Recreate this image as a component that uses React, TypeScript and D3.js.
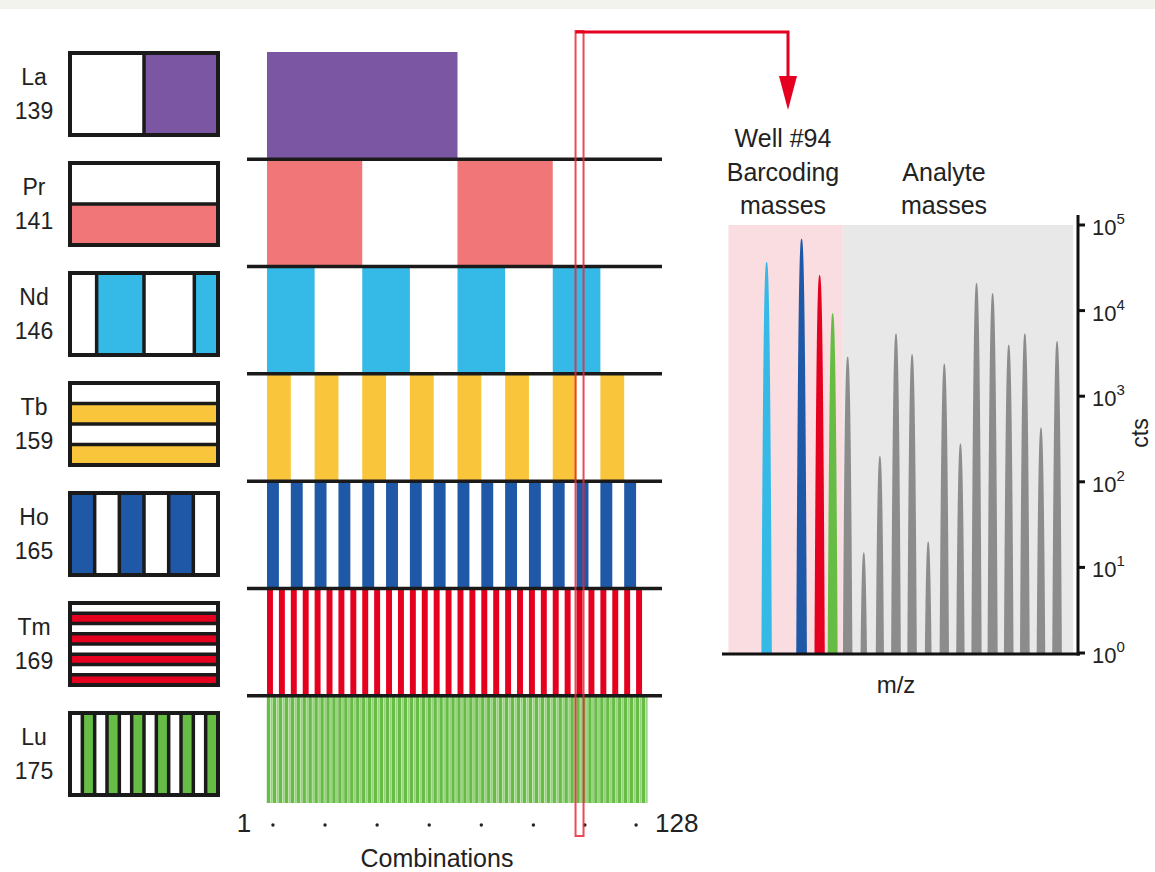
import React from "react";
import * as d3 from "d3";

// ---------- data ----------
const elements = ["La", "Pr", "Nd", "Tb", "Ho", "Tm", "Lu"];
const masses = ["139", "141", "146", "159", "165", "169", "175"];
const elementColors = ["#7b56a2", "#f07677", "#35b9e6", "#f9c53b", "#1f58a6", "#e60020", "#66bc45"];
// each row is "on" for the first half of every period (in combinations)
const rowPeriods = [128, 64, 32, 16, 8, 4, 2];
const totalCombinations = 128;
const highlightCombination = 105;
const dotTicks = [2, 19.5, 37, 54.5, 72, 89.5, 106.8, 124];

// legend box stripes
const legendOrient = ["v", "h", "v", "h", "v", "h", "v"];
const legendSizes = [
  [1, 1],
  [1, 1],
  [0.18, 0.32, 0.34, 0.16],
  [1, 1, 1, 1],
  [1, 1, 1, 1, 1, 1],
  [1, 1, 1, 1, 1, 1, 1, 1],
  [1, 1, 1, 1, 1, 1, 1, 1, 1, 1, 1, 1],
];
const legendOn = [
  [0, 1],
  [0, 1],
  [0, 1, 0, 1],
  [0, 1, 0, 1],
  [1, 0, 1, 0, 1, 0],
  [0, 1, 0, 1, 0, 1, 0, 1],
  [0, 1, 0, 1, 0, 1, 0, 1, 0, 1, 0, 1],
];

// spectrum
const barcodeElements = ["Nd", "Ho", "Tm", "Lu"];
const barcodeChannels = [4.97, 7.14, 8.26, 9.07];
const barcodeCounts = [37000, 69000, 26000, 9300];
const analyteChannels = [10, 11, 12, 13, 14, 15, 16, 17, 18, 19, 20, 21, 22, 23];
const analyteCounts = [2900, 15, 200, 5400, 3100, 20, 2400, 280, 21000, 16000, 4000, 5400, 430, 4400];
const yTickValues = [1, 10, 100, 1000, 10000, 100000];
const yTickExponents = ["0", "1", "2", "3", "4", "5"];
const barcodeRegion = [2.6, 9.7];
const analyteRegion = [9.7, 24.0];

const FONT = "'Liberation Sans', Arial, Helvetica, sans-serif";
const TXT = "#222";

export default function App() {
  const W = 1155, H = 872;
  const x = d3.scaleLinear().domain([0, totalCombinations]).range([267, 648]);
  const rows = d3.scaleBand<string>().domain(elements).range([52, 803]).padding(0);
  const legend = d3.scaleBand<string>().domain(elements).range([53, 795]).paddingInner(0.2545).paddingOuter(0);
  const lx0 = 70, lw = 148;

  const xs = d3.scaleLinear().domain([2.2, 24.3]).range([722, 1078]);
  const ys = d3.scaleLog().domain([1, 100000]).range([653, 225]);

  const K = 0.045, Q = 2.8;
  const peakPath = (ch: number, cts: number) => {
    const h = Math.log10(cts);
    const hw = Math.pow(h / K, 1 / Q);
    const N = 30;
    const pts: [number, number][] = d3.range(-N, N + 1).map((i) => {
      const dx = (hw * i) / N;
      const v = Math.max(0, h - K * Math.pow(Math.abs(dx), Q));
      return [xs(ch) + dx, ys(Math.pow(10, v))];
    });
    return d3.line()(pts) + "Z";
  };

  const combos = d3.range(totalCombinations);
  const cw = x(1) - x(0);

  const hx = x(highlightCombination);
  const arrowX = 788;

  return (
    <svg width={W} height={H} style={{ position: "absolute", left: 0, top: 0, background: "#fff" }} fontFamily={FONT}>
      <rect x={0} y={0} width={W} height={9} fill="#f3f3ee" />

      {/* legend boxes */}
      {elements.map((el, k) => {
        const top = legend(el)!;
        const bh = legend.bandwidth();
        const sizes = legendSizes[k];
        const sum = d3.sum(sizes);
        const cum = d3.cumsum(sizes);
        const vert = legendOrient[k] === "v";
        const len = vert ? lw : bh;
        const segs = sizes.map((s, i) => {
          const start = ((cum[i] - s) / sum) * len;
          const size = (s / sum) * len;
          return { start, size, on: legendOn[k][i] };
        });
        return (
          <g key={el}>
            {segs.map((sg, i) =>
              vert ? (
                <rect key={i} x={lx0 + sg.start} y={top} width={sg.size} height={bh} fill={sg.on ? elementColors[k] : "#fff"} />
              ) : (
                <rect key={i} x={lx0} y={top + sg.start} width={lw} height={sg.size} fill={sg.on ? elementColors[k] : "#fff"} />
              )
            )}
            {segs.slice(1).map((sg, i) =>
              vert ? (
                <line key={"d" + i} x1={lx0 + sg.start} x2={lx0 + sg.start} y1={top} y2={top + bh} stroke="#1a1a1a" strokeWidth={3.5} />
              ) : (
                <line key={"d" + i} x1={lx0} x2={lx0 + lw} y1={top + sg.start} y2={top + sg.start} stroke="#1a1a1a" strokeWidth={3.5} />
              )
            )}
            <rect x={lx0} y={top} width={lw} height={bh} fill="none" stroke="#1a1a1a" strokeWidth={4} />
            <text x={34} y={top + 32} textAnchor="middle" fontSize={23} fill={TXT}>{el}</text>
            <text x={34} y={top + 66} textAnchor="middle" fontSize={23} fill={TXT}>{masses[k]}</text>
          </g>
        );
      })}

      {/* combination rows */}
      {elements.map((el, k) => {
        const y0 = rows(el)!;
        const bh = rows.bandwidth();
        const p = rowPeriods[k];
        if (el === "Lu") {
          return (
            <g key={el}>
              {combos.map((c) => {
                const on = c % p < p / 2;
                return on ? (
                  <rect key={c} x={x(c) - 0.2} y={y0} width={cw + 0.4} height={bh} fill={elementColors[k]} />
                ) : (
                  <rect key={c} x={x(c) + 0.6} y={y0} width={cw - 1.0} height={bh} fill="#99d27e" />
                );
              })}
            </g>
          );
        }
        const starts = combos.filter((c) => c % p === 0);
        return (
          <g key={el}>
            {starts.map((c) => (
              <rect key={c} x={x(c)} y={y0} width={x(c + p / 2) - x(c)} height={bh} fill={elementColors[k]} />
            ))}
          </g>
        );
      })}
      {elements.slice(1).map((el) => (
        <line key={el} x1={247} x2={662} y1={rows(el)!} y2={rows(el)!} stroke="#1a1a1a" strokeWidth={3.5} />
      ))}

      {/* bottom axis */}
      <text x={244} y={832} textAnchor="middle" fontSize={26} fill={TXT}>1</text>
      <text x={655} y={832} textAnchor="start" fontSize={26} fill={TXT}>128</text>
      {dotTicks.map((d, i) => (
        <circle key={i} cx={x(d)} cy={825} r={1.7} fill={TXT} />
      ))}
      <text x={437} y={867} textAnchor="middle" fontSize={25} fill={TXT}>Combinations</text>

      {/* highlight */}
      <rect x={hx - 4} y={31} width={8} height={805} fill="none" stroke="#e42a3a" strokeWidth={2} opacity={0.85} />
      <polyline points={`${hx - 4},32 ${arrowX},32 ${arrowX},80`} fill="none" stroke="#e60020" strokeWidth={3} />
      <polygon points={`${arrowX - 9},76 ${arrowX + 9},76 ${arrowX},110`} fill="#e60020" />

      {/* spectrum */}
      <rect x={xs(barcodeRegion[0])} y={ys(100000)} width={xs(barcodeRegion[1]) - xs(barcodeRegion[0])} height={ys(1) - ys(100000)} fill="#f9dde1" />
      <rect x={xs(analyteRegion[0])} y={ys(100000)} width={xs(analyteRegion[1]) - xs(analyteRegion[0])} height={ys(1) - ys(100000)} fill="#e8e8e8" />
      {analyteChannels.map((ch, i) => (
        <path key={"a" + i} d={peakPath(ch, analyteCounts[i])} fill="#8c8c8c" />
      ))}
      {barcodeChannels.map((ch, i) => (
        <path key={"b" + i} d={peakPath(ch, barcodeCounts[i])} fill={elementColors[elements.indexOf(barcodeElements[i])]} />
      ))}
      <line x1={722} x2={1080} y1={ys(1) + 1} y2={ys(1) + 1} stroke="#111" strokeWidth={3} />
      <line x1={xs(24.3)} x2={xs(24.3)} y1={215} y2={ys(1) + 2.5} stroke="#111" strokeWidth={3} />
      {yTickValues.map((v, i) => (
        <g key={v}>
          <line x1={xs(24.3)} x2={xs(24.3) + 7} y1={ys(v)} y2={ys(v)} stroke="#111" strokeWidth={3} />
          <text x={1092} y={ys(v) + 10} fontSize={22} fill={TXT}>
            10
            <tspan dy={-11} fontSize={15}>{yTickExponents[i]}</tspan>
          </text>
        </g>
      ))}
      <text transform="translate(1148,433) rotate(-90)" textAnchor="middle" fontSize={23} fill={TXT}>cts</text>
      <text x={896} y={693} textAnchor="middle" fontSize={24} fill={TXT}>m/z</text>

      <text x={783} y={147} textAnchor="middle" fontSize={25} fill={TXT}>Well #94</text>
      <text x={783} y={181} textAnchor="middle" fontSize={25} fill={TXT}>Barcoding</text>
      <text x={783} y={214} textAnchor="middle" fontSize={25} fill={TXT}>masses</text>
      <text x={944} y={181} textAnchor="middle" fontSize={25} fill={TXT}>Analyte</text>
      <text x={944} y={214} textAnchor="middle" fontSize={25} fill={TXT}>masses</text>
    </svg>
  );
}
